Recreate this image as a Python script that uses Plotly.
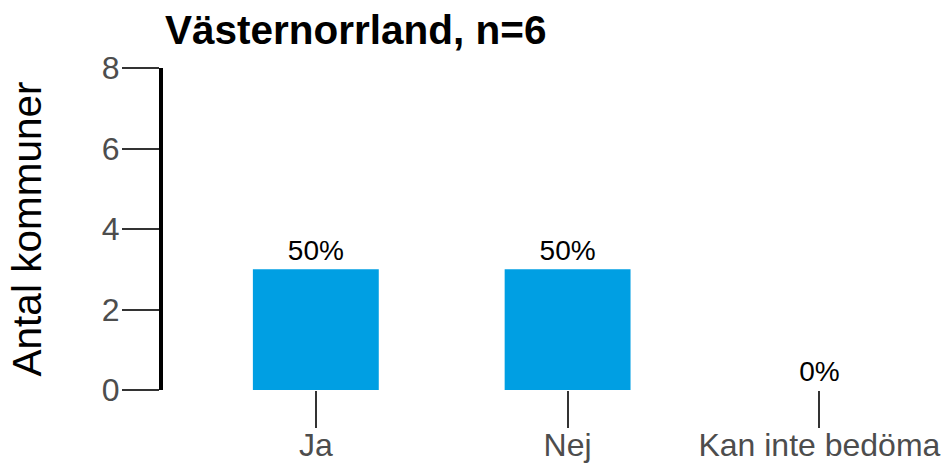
import plotly.graph_objects as go

categories = ["Ja", "Nej", "Kan inte bedöma"]
counts = [3, 3, 0]
pct_labels = ["50%", "50%", "0%"]
y_ticks = [0, 2, 4, 6, 8]
title_text = "Västernorrland, n=6"
y_title = "Antal kommuner"

FONT = "Liberation Sans, Arial, sans-serif"

fig = go.Figure()
fig.add_trace(go.Bar(
    x=categories,
    y=counts,
    text=pct_labels,
    textposition="outside",
    textfont=dict(family=FONT, size=28, color="black"),
    cliponaxis=False,
    marker=dict(color="#009FE3", line=dict(width=0)),
    width=0.5,
))

fig.update_layout(
    width=944, height=463,
    margin=dict(l=163, r=0, t=68, b=73, autoexpand=False),
    paper_bgcolor="white", plot_bgcolor="white",
    showlegend=False,
    title=dict(text="<b>" + title_text + "</b>", x=165/944, xanchor="left",
               y=1 - 30/463, yanchor="middle",
               font=dict(family=FONT, size=40.5, color="black")),
    font=dict(family=FONT),
    xaxis=dict(
        range=[-0.607, 2.495], automargin=False,
        showline=False, showgrid=False, zeroline=False,
        ticks="outside", ticklen=37, tickwidth=2, tickcolor="#333333",
        ticklabelstandoff=-10,
        tickfont=dict(family=FONT, size=32, color="#4D4D4D"),
    ),
    yaxis=dict(
        range=[0, 8], automargin=False,
        tickvals=y_ticks,
        showline=True, linewidth=4, linecolor="black",
        showgrid=False, zeroline=False,
        ticks="outside", ticklen=37, tickwidth=2, tickcolor="#333333",
        ticklabelstandoff=-4,
        tickfont=dict(family=FONT, size=32, color="#4D4D4D"),
        title=dict(text=y_title, font=dict(family=FONT, size=40.5, color="black"), standoff=49),
    ),
)

fig.write_html("out.html", config={"displayModeBar": False},
               post_script="document.body.style.margin='0';")
